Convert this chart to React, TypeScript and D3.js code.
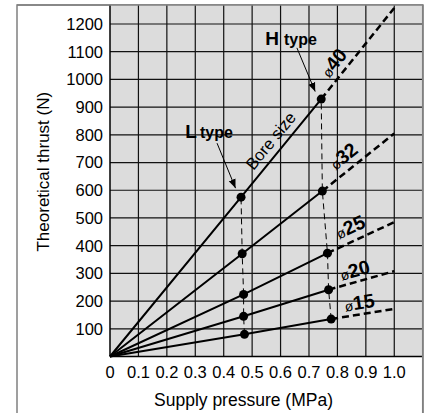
import React from 'react';
import * as d3 from 'd3';

// values
const pressureTicks = [0, 0.1, 0.2, 0.3, 0.4, 0.5, 0.6, 0.7, 0.8, 0.9, 1.0];
const pressureTickLabels = ['0', '0.1', '0.2', '0.3', '0.4', '0.5', '0.6', '0.7', '0.8', '0.9', '1.0'];
const thrustTicks = [100, 200, 300, 400, 500, 600, 700, 800, 900, 1000, 1100, 1200];

const boreSizes = ['15', '20', '25', '32', '40'];
const lTypePressure = [0.473, 0.47, 0.47, 0.465, 0.461];
const lTypeThrust = [80, 145, 224, 371, 575];
const hTypePressure = [0.778, 0.769, 0.765, 0.747, 0.743];
const hTypeThrust = [135, 241, 373, 597, 929];
const maxPressure = 1.0;
const maxPressureThrust = [172, 308, 485, 805, 1258];

const W = 429, H = 413;
const FONT = 'Liberation Sans, Arial, Helvetica, sans-serif';

const App: React.FC = () => {
    const x = d3.scaleLinear().domain([0, 1.1]).range([110, 422.7]);
    const y = d3.scaleLinear().domain([0, 1200]).range([356.5, 24]);
    const top = 5;

    const line = d3.line<[number, number]>().x(d => x(d[0])).y(d => y(d[1]));

    // label placement along the dashed part of each line
    const labelAt = [0.884, 0.872, 0.866, 0.852, 0.822];
    const labelOff = [5, 5, 7.5, 7.5, 6.5];

    const i40 = boreSizes.length - 1;
    const lDot: [number, number] = [x(lTypePressure[i40]), y(lTypeThrust[i40])];
    const hDot: [number, number] = [x(hTypePressure[i40]), y(hTypeThrust[i40])];

    // "Bore size" along the solid part of ø40
    const boreP = 0.6;
    const boreT = lTypeThrust[i40] + (hTypeThrust[i40] - lTypeThrust[i40]) * (boreP - lTypePressure[i40]) / (hTypePressure[i40] - lTypePressure[i40]);
    const boreAngle = Math.atan2(hDot[1] - lDot[1], hDot[0] - lDot[0]) * 180 / Math.PI;

    return (
        <svg width={W} height={H} style={{ position: 'absolute', left: 0, top: 0 }} fontFamily={FONT}>
            <defs>
                <marker id="arrow" viewBox="0 0 10 10" refX="10" refY="5" markerWidth="9" markerHeight="9"
                    markerUnits="userSpaceOnUse" orient="auto">
                    <path d="M0,1 L10,5 L0,9 Z" fill="#000" />
                </marker>
            </defs>
            {/* outer frame */}
            <rect x={17} y={top} width={406} height={430} fill="#fff" stroke="#808080" strokeWidth={1.5} />
            {/* plot background */}
            <rect x={x(0)} y={top} width={x(1.1) - x(0)} height={y(0) - top} fill="#dcdcdc" />
            {/* grid */}
            {pressureTicks.slice(1).map(p => (
                <line key={'v' + p} x1={x(p)} x2={x(p)} y1={top} y2={y(0)} stroke="#111" strokeWidth={1.2} />
            ))}
            {thrustTicks.map(t => (
                <line key={'h' + t} x1={x(0)} x2={x(1.1)} y1={y(t)} y2={y(t)} stroke="#111" strokeWidth={1.2} />
            ))}
            <line x1={x(0)} x2={x(0)} y1={top} y2={y(0)} stroke="#000" strokeWidth={1.5} />
            <line x1={x(0)} x2={x(1.1)} y1={y(0)} y2={y(0)} stroke="#000" strokeWidth={1.5} />
            <line x1={17} x2={423} y1={top} y2={top} stroke="#808080" strokeWidth={1.5} />
            <line x1={x(1.1)} x2={x(1.1)} y1={top} y2={H} stroke="#808080" strokeWidth={1.5} />

            {/* vertical dashed connectors */}
            <path d={line(boreSizes.map((_, i) => [lTypePressure[i], lTypeThrust[i]] as [number, number])) || ''}
                fill="none" stroke="#000" strokeWidth={1} strokeDasharray="6,4" />
            <path d={line(boreSizes.map((_, i) => [hTypePressure[i], hTypeThrust[i]] as [number, number])) || ''}
                fill="none" stroke="#000" strokeWidth={1} strokeDasharray="6,4" />

            {/* thrust lines */}
            {boreSizes.map((b, i) => (
                <g key={b}>
                    <path d={line([[0, 0], [lTypePressure[i], lTypeThrust[i]], [hTypePressure[i], hTypeThrust[i]]]) || ''}
                        fill="none" stroke="#000" strokeWidth={2} />
                    <path d={line([[hTypePressure[i], hTypeThrust[i]], [maxPressure, maxPressureThrust[i]]]) || ''}
                        fill="none" stroke="#000" strokeWidth={2.5} strokeDasharray="7,4" />
                    <circle cx={x(lTypePressure[i])} cy={y(lTypeThrust[i])} r={4.5} fill="#000" />
                    <circle cx={x(hTypePressure[i])} cy={y(hTypeThrust[i])} r={4.5} fill="#000" />
                </g>
            ))}

            {/* bore labels */}
            {boreSizes.map((b, i) => {
                const x0 = x(hTypePressure[i]), y0 = y(hTypeThrust[i]);
                const x1 = x(maxPressure), y1 = y(maxPressureThrust[i]);
                const ang = Math.atan2(y1 - y0, x1 - x0) * 180 / Math.PI;
                const t = (labelAt[i] - hTypePressure[i]) / (maxPressure - hTypePressure[i]);
                const fx = x0 + (x1 - x0) * t, fy = y0 + (y1 - y0) * t;
                return (
                    <text key={'lab' + b} transform={`translate(${fx},${fy}) rotate(${ang})`} y={-labelOff[i]}
                        textAnchor="middle" fill="#000">
                        <tspan fontSize={14}>ø</tspan>
                        <tspan fontSize={19.5} fontWeight="bold">{b}</tspan>
                    </text>
                );
            })}
            <text transform={`translate(${x(boreP)},${y(boreT)}) rotate(${boreAngle})`} y={-7}
                textAnchor="middle" fontSize={16.5} fill="#000">Bore size</text>

            {/* type callouts */}
            <text x={lDot[0] - 55.7} y={lDot[1] - 59} fill="#000" fontWeight="bold">
                <tspan fontSize={19}>L</tspan>
                <tspan dx={3} fontSize={16}>type</tspan>
            </text>
            <line x1={lDot[0] - 24} y1={lDot[1] - 54} x2={lDot[0] - 5.5} y2={lDot[1] - 9}
                stroke="#000" strokeWidth={1} markerEnd="url(#arrow)" />
            <text x={hDot[0] - 56} y={hDot[1] - 54.5} fill="#000" fontWeight="bold">
                <tspan fontSize={19}>H</tspan>
                <tspan dx={5} fontSize={16}>type</tspan>
            </text>
            <line x1={hDot[0] - 24.3} y1={hDot[1] - 51.2} x2={hDot[0] - 6} y2={hDot[1] - 7.5}
                stroke="#000" strokeWidth={1} markerEnd="url(#arrow)" />

            {/* axis tick labels */}
            {thrustTicks.map(t => (
                <text key={'yt' + t} x={103} y={y(t)} dy="0.36em" textAnchor="end" fontSize={16.5} fill="#000">{t}</text>
            ))}
            {pressureTicks.map((p, i) => (
                <text key={'xt' + p} x={x(p)} y={378} textAnchor="middle" fontSize={16.5} fill="#000">{pressureTickLabels[i]}</text>
            ))}

            {/* axis titles */}
            <text x={243.5} y={405.5} textAnchor="middle" fontSize={17.5} fill="#000">Supply pressure (MPa)</text>
            <text transform="translate(49,171.7) rotate(-90)" textAnchor="middle" fontSize={17} fill="#000">Theoretical thrust (N)</text>
        </svg>
    );
};

export default App;
